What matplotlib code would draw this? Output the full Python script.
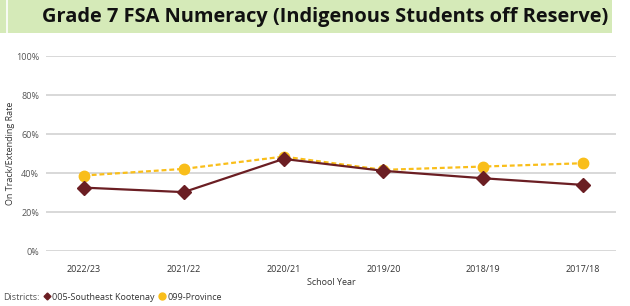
import matplotlib
matplotlib.use("Agg")
import matplotlib.pyplot as plt
from matplotlib.patches import Rectangle
from matplotlib.lines import Line2D

years = ["2022/23", "2021/22", "2020/21", "2019/20", "2018/19", "2017/18"]
district_name = "005-Southeast Kootenay"
province_name = "099-Province"
district_vals = [32.6, 30.3, 47.3, 41.2, 37.4, 34.0]
province_vals = [38.8, 42.2, 48.5, 41.7, 43.4, 45.1]
yticks = [0, 20, 40, 60, 80, 100]
title = "Grade 7 FSA Numeracy (Indigenous Students off Reserve)"

maroon = "#6B1E23"
gold = "#F9BE1A"
grey_txt = "#555555"

plt.rcParams['font.family'] = ['Open Sans', 'DejaVu Sans']

fig = plt.figure(figsize=(6.3, 3.06), dpi=100)
W, H = 630, 306

# title band
fig.patches.append(Rectangle((0, 1 - 33 / H), 612 / W, 33 / H, transform=fig.transFigure,
                             facecolor="#D5EAB8", edgecolor="none", zorder=0))
fig.lines.append(Line2D([7 / W, 7 / W], [1 - 33 / H, 1], transform=fig.transFigure,
                        color="white", lw=1.2))
fig.text(325 / W, 1 - 17 / H, title, ha="center", va="center",
         fontsize=14.4, fontweight="bold", color="#111111")

ax = fig.add_axes([46 / W, 54.7 / H, 570 / W, 195.3 / H])
x = list(range(len(years)))
ax.plot(x, province_vals, color=gold, lw=1.6, ls=(0, (2.2, 1.3)), marker="o",
        markersize=7.5, zorder=3, label=province_name)
ax.plot(x, district_vals, color=maroon, lw=1.6, marker="D", markersize=7.5,
        zorder=4, label=district_name)
ax.set_xlim(-0.38, 5.33)
ax.set_ylim(0, 100)
ax.set_yticks(yticks)
ax.set_yticklabels([f"{v}%" for v in yticks])
ax.set_xticks(x)
ax.set_xticklabels(years)
ax.grid(axis="y", color="#d6d6d6", lw=1.3)
ax.set_axisbelow(True)
for s in ax.spines.values():
    s.set_visible(False)
ax.tick_params(axis="both", length=0, labelsize=6.5, colors=grey_txt)
ax.tick_params(axis="y", pad=5)
ax.tick_params(axis="x", pad=10)
for lab in ax.get_xticklabels():
    lab.set_color("#333333")
ax.set_xlabel("School Year", fontsize=6.5, color="#333333", labelpad=3)
ax.set_ylabel("On Track/Extending Rate", fontsize=6.5, color="#333333")
ax.yaxis.set_label_coords(-31 / 570, 0.5)

# legend
fig.text(3 / W, 9 / H, "Districts:", fontsize=6.5, color=grey_txt, va="center")
h1 = Line2D([], [], color=maroon, marker="D", markersize=3.5, ls="none")
h2 = Line2D([], [], color=gold, marker="o", markersize=5, ls="none")
fig.legend([h1, h2], [district_name, province_name], loc="center left",
           bbox_to_anchor=(44 / W, 9 / H), ncol=2, frameon=False, fontsize=6.5,
           handlelength=0.6, handletextpad=0.3, columnspacing=0.5, borderpad=0,
           borderaxespad=0, labelcolor="#333333")

fig.savefig("out.png", dpi=100)
